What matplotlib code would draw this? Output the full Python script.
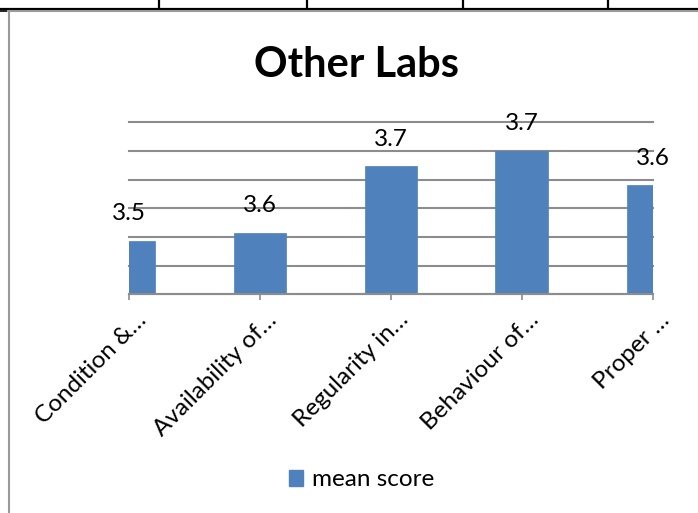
import matplotlib
matplotlib.use("Agg")
import matplotlib.pyplot as plt
from matplotlib.lines import Line2D
from matplotlib.patches import Patch
import matplotlib.transforms as mtransforms

categories = ["Condition &…", "Availability of…", "Regularity in…", "Behaviour of…", "Proper …"]
mean_score = [3.543, 3.557, 3.673, 3.700, 3.640]
series_name = "mean score"
title = "Other Labs"
y_ticks = [3.45, 3.50, 3.55, 3.60, 3.65, 3.70, 3.75]

FONT = ["Lato", "DejaVu Sans"]
plt.rcParams["font.family"] = FONT

W, H = 698, 513
fig = plt.figure(figsize=(W / 100, H / 100), dpi=100)

def fx(px):
    return px / W

def fy(py):
    return (H - py) / H

# axes placement
x0, x1 = 128.7, 652.7
yb, yt = 294.3, 122.3
ax = fig.add_axes([fx(x0), fy(yb), fx(x1) - fx(x0), fy(yt) - fy(yb)])

bar_color = "#4F81BD"
grid_color = "#8C8C8C"
xs = list(range(len(categories)))
ax.bar(xs, [v - y_ticks[0] for v in mean_score], bottom=y_ticks[0], width=0.4,
       color=bar_color, edgecolor=bar_color, linewidth=0.5, zorder=3)
ax.set_xlim(0, len(categories) - 1)
ax.set_ylim(y_ticks[0], y_ticks[-1])
ax.set_yticks(y_ticks)
ax.yaxis.grid(True, color=grid_color, linewidth=1.5)
for gl in ax.get_ygridlines():
    gl.set_clip_on(False)
ax.set_axisbelow(True)
ax.tick_params(axis="y", left=False, labelleft=False)
for s in ["left", "right", "top"]:
    ax.spines[s].set_visible(False)
ax.spines["bottom"].set_color(grid_color)
ax.spines["bottom"].set_linewidth(1.5)
ax.spines["bottom"].set_zorder(4)

ax.set_xticks(xs)
ax.set_xticklabels(categories, rotation=45, ha="right", va="center",
                   rotation_mode="anchor", fontsize=17.5)
ax.tick_params(axis="x", length=4, width=1.2, color=grid_color, pad=12)
offset = mtransforms.ScaledTranslation(10 / 72, 0, fig.dpi_scale_trans)
for lab in ax.get_xticklabels():
    lab.set_transform(lab.get_transform() + offset)

for x, v in zip(xs, mean_score):
    ax.annotate(f"{v:.1f}", xy=(x, v), xytext=(0, 19.5), textcoords="offset points",
                ha="center", va="center", fontsize=17.5, annotation_clip=False, zorder=5)

fig.text(fx(357), fy(76.7), title, ha="center", va="baseline",
         fontsize=30, fontweight="bold")

handle = Patch(facecolor=bar_color, edgecolor=bar_color)
fig.legend([handle], [series_name], loc="center", bbox_to_anchor=(fx(361.5), fy(480)),
           frameon=False, fontsize=17.5, handlelength=0.6, handleheight=0.6,
           handletextpad=0.35, borderpad=0)

# document table / chart frame lines
def fline(xa, ya, xb, yb_, color, lw):
    fig.add_artist(Line2D([fx(xa), fx(xb)], [fy(ya), fy(yb_)], color=color, linewidth=lw,
                          transform=fig.transFigure))

fline(0, 9.3, W, 9.3, "black", 1.6)
for vx in [159, 307, 463, 608]:
    fline(vx, 0, vx, 9.3, "black", 1.6)
fline(0, 10.5, 8, 10.5, "black", 1.2)
fline(8, 11, W, 11, "#9A9A9A", 1.5)
fline(8.5, 11, 8.5, H, "#9A9A9A", 1.5)

fig.savefig("out.png", dpi=100)
